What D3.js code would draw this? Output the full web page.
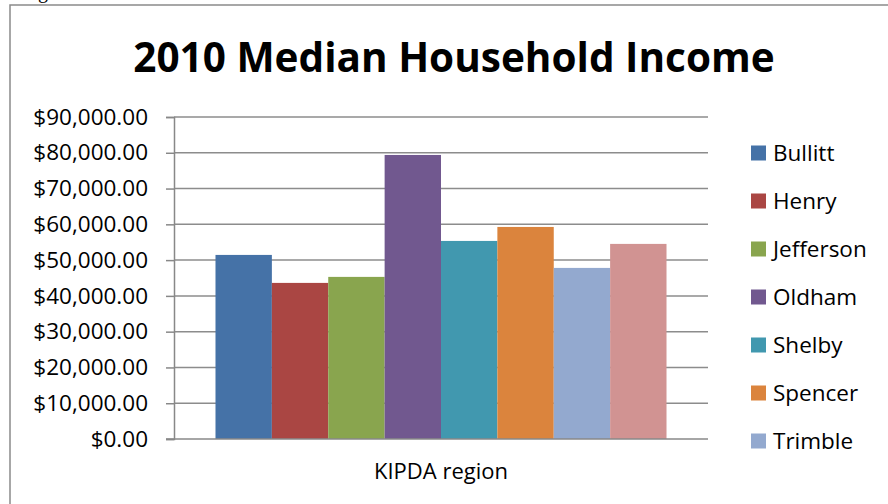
<!DOCTYPE html>
<html>
<head>
<meta charset="utf-8">
<script src="https://cdn.jsdelivr.net/npm/d3@7"></script>
<style>
  body { margin: 0; background: #fff; }
  text { font-family: "Open Sans", Lato, sans-serif; fill: #000; }
</style>
</head>
<body>
<div id="chart"></div>
<script>
// data
var categories = ["KIPDA region"];
var counties = ["Bullitt", "Henry", "Jefferson", "Oldham", "Shelby", "Spencer", "Trimble", "Other"];
var incomes = [51450, 43630, 45310, 79390, 55360, 59270, 47820, 54530];
var colors = ["#4572A7", "#AA4643", "#89A54E", "#71588F", "#4198AF", "#DB843D", "#93A9CF", "#D19392"];
var yTicks = [0, 10000, 20000, 30000, 40000, 50000, 60000, 70000, 80000, 90000];
var legendShown = 7; // the legend box only fits 7 entries

var width = 888, height = 504;
var plot = {left: 174, right: 708, top: 117, bottom: 439};

var svg = d3.select('#chart')
  .append('svg')
  .attr('width', width)
  .attr('height', height);

// chart frame (cut off at right and bottom)
svg.append('rect')
  .attr('x', 10)
  .attr('y', 5)
  .attr('width', 900)
  .attr('height', 520)
  .style('fill', 'none')
  .style('stroke', '#8a8a8a')
  .style('stroke-width', 1.5);

// bit of the caption above the chart
svg.append('text')
  .attr('x', 38)
  .attr('y', -2)
  .style('font-family', '"Liberation Serif", serif')
  .style('font-size', '20px')
  .text('g');

var title = svg.append('text')
  .attr('x', 454)
  .attr('y', 72)
  .attr('text-anchor', 'middle')
  .style('font-size', '40px')
  .style('font-weight', 'bold')
  .text('2010 Median Household Income');
// fit the title to the width it has in the picture
var tw = title.node().getComputedTextLength();
title.style('font-size', (40 * 642 / tw).toFixed(1) + 'px');

var y = d3.scaleLinear()
  .domain([0, 90000])
  .range([plot.bottom, plot.top]);

var x = d3.scaleBand()
  .domain(categories)
  .range([plot.left, plot.right])
  .paddingOuter(0.092);

var xs = d3.scaleBand()
  .domain(counties)
  .range([0, x.bandwidth()]);

// gridlines
svg.append('g')
  .selectAll('line')
  .data(yTicks.slice(1))
  .enter().append('line')
    .attr('x1', plot.left)
    .attr('x2', plot.right)
    .attr('y1', d => y(d))
    .attr('y2', d => y(d))
    .style('stroke', '#8c8c8c')
    .style('stroke-width', 1.5);

// y axis
var yAxis = svg.append('g')
  .attr('transform', 'translate(' + plot.left + ',0)')
  .call(d3.axisLeft(y).tickValues(yTicks).tickFormat(d3.format('$,.2f')).tickSize(8).tickPadding(18));
yAxis.select('.domain').style('stroke', '#888').style('stroke-width', 1.5);
yAxis.selectAll('.tick line').style('stroke', '#888').style('stroke-width', 1.5);
yAxis.selectAll('.tick text')
  .style('font-size', '22.5px')
  .style('font-family', '"Open Sans", sans-serif');

// bars
svg.append('g')
  .selectAll('rect')
  .data(counties)
  .enter().append('rect')
    .attr('x', d => x(categories[0]) + xs(d))
    .attr('y', (d, i) => y(incomes[i]))
    .attr('width', xs.bandwidth())
    .attr('height', (d, i) => y(0) - y(incomes[i]))
    .style('fill', (d, i) => colors[i]);

// x axis line
svg.append('line')
  .attr('x1', plot.left - 8)
  .attr('x2', plot.right)
  .attr('y1', y(0))
  .attr('y2', y(0))
  .style('stroke', '#888')
  .style('stroke-width', 1.5);

svg.append('text')
  .attr('x', x(categories[0]) + x.bandwidth() / 2)
  .attr('y', 479)
  .attr('text-anchor', 'middle')
  .style('font-size', '22px')
  .text(categories[0]);

// legend
var g = svg.append('g')
  .selectAll('g')
  .data(counties.slice(0, legendShown))
  .enter().append('g')
  .attr('transform', (d, i) => 'translate(751,' + (153 + i * 48) + ')');

g.append('rect')
  .attr('y', -7.5)
  .attr('width', 15)
  .attr('height', 15)
  .style('fill', (d, i) => colors[i]);

g.append('text')
  .attr('x', 22)
  .attr('dy', '0.35em')
  .style('font-size', '22.5px')
  .text(d => d);
</script>
</body>
</html>
